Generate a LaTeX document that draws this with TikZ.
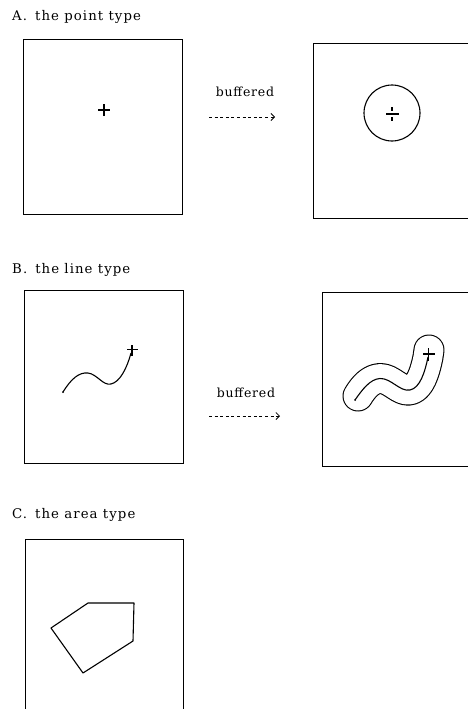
\documentclass[tikz,border=0pt]{standalone}
\usepackage{fontspec}
\newfontfamily\labfont[LetterSpace=6]{DejaVu Serif}
\newfontfamily\headfont[LetterSpace=8]{DejaVu Serif}
\usetikzlibrary{arrows.meta}
\begin{document}
\begin{tikzpicture}[x=1pt,y=-1pt,
  frame/.style={draw, line width=0.8pt},
  curve/.style={draw, line width=1.1pt},
  lab/.style={anchor=base west, inner sep=0pt, font=\headfont\fontsize{13.3}{16}\selectfont},
  buf/.style={anchor=base, inner sep=0pt, font=\labfont\fontsize{12.5}{15}\selectfont},
  bufarrow/.style={draw, line width=0.8pt, dash pattern=on 3pt off 2.6pt,
    -{Straight Barb[length=3.5pt,width=7pt,line width=0.8pt]}}]
\useasboundingbox (0,0) rectangle (468,709);
\clip (0,0) rectangle (468,709);
\fill[white] (0,0) rectangle (468,709);

% ---------- A ----------
\node[lab] (labA) at (12,20.5) {A.\hspace{8pt}the point type};
\draw[frame] (23,39) rectangle (182,214);
\coordinate (ptA) at (104,110);
\draw[curve] ([xshift=-6pt]ptA) -- ([xshift=6pt]ptA);
\draw[curve] ([yshift=-6pt]ptA) -- ([yshift=6pt]ptA);
\node[buf] (bufA) at (245,96) {buffered};
\coordinate (a1) at (209,117);
\coordinate (a2) at (275,117);
\draw[bufarrow] (a1) -- (a2);
\draw[frame] (313,43) rectangle (490,218);
\coordinate (cA) at (392,113);
\draw[curve] (cA) circle (28);
\draw[curve] (386,114) -- (399,114);
\draw[curve] (392,107) -- (392,111);
\draw[curve] (392,117) -- (392,121);

% ---------- B ----------
\node[lab] (labB) at (12,273) {B.\hspace{8pt}the line type};
\draw[frame] (24,290) rectangle (183,463);
\draw[curve] (63,392) .. controls (71,379) and (79,372) .. (88,373)
  .. controls (97,374) and (103,386) .. (111,384)
  .. controls (120,382) and (127,368) .. (131,353);
\fill (63,392) circle (1pt);
\draw[curve] (127,349.5) -- (138,349.5);
\draw[curve] (132,345) -- (132,356);
\node[buf] (bufB) at (246,397) {buffered};
\coordinate (b1) at (209,416);
\coordinate (b2) at (280,416);
\draw[bufarrow] (b1) -- (b2);
\draw[frame] (322,292) rectangle (490,466);
% buffer outline
\def\bufpath{(358,396) .. controls (364,386) and (371,379) .. (380,378.5)
  .. controls (391,378) and (400,392) .. (410,390)
  .. controls (420,388) and (425,372) .. (428,357) -- (429,350)}
\draw[line width=31pt, line cap=round, line join=round] \bufpath;
\draw[white, line width=28.8pt, line cap=round, line join=round] \bufpath;
\draw[curve] (355,400) .. controls (362,390) and (370,379) .. (380,378.5)
  .. controls (391,378) and (400,392) .. (410,390)
  .. controls (420,388) and (425,372) .. (428,357);
\fill (355,400) circle (1pt);
\draw[curve] (423,354) -- (435,354);
\draw[curve] (428.5,348) -- (428.5,361);

% ---------- C ----------
\node[lab] (labC) at (12,518) {C.\hspace{8pt}the area type};
\draw[frame] (25,539) rectangle (183,730);
\draw[curve, line join=round] (51,628) -- (88,603) -- (134,603) -- (133,641) -- (83,673) -- cycle;
\end{tikzpicture}
\end{document}
